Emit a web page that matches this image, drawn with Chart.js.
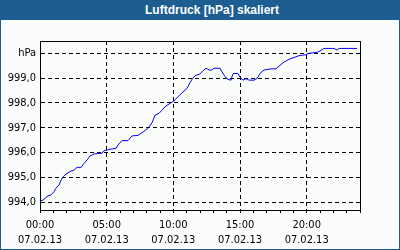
<!DOCTYPE html>
<html>
<head>
<meta charset="utf-8">
<script src="https://cdn.jsdelivr.net/npm/chart.js@4/dist/chart.umd.min.js"></script>
<style>
  html, body { margin: 0; padding: 0; background: #fbfdfb; }
  #wrap { position: relative; width: 400px; height: 250px; overflow: hidden; }
  #c { position: absolute; left: 0; top: 0; }
  #frame { position: absolute; left: 0; top: 0; width: 398px; height: 249px;
           border: 1px solid #1c5e92; border-top: 0; pointer-events: none; }
  #title { position: absolute; left: 0; top: 0; width: 400px; height: 20px;
           background: #1c5e92; color: #fff; font: bold 12px 'Liberation Sans', Arial, sans-serif;
           line-height: 20px; }
  #title span { position: absolute; left: 145px; top: 0; }
</style>
</head>
<body>
<div id="wrap">
  <canvas id="c" width="400" height="250"></canvas>
  <div id="frame"></div>
  <div id="title"><span>Luftdruck [hPa] skaliert</span></div>
</div>
<script>
// Zeit in Stunden ab 07.02.13 00:00
const hours = [0.00, 0.23, 0.38, 0.60, 0.83, 1.05, 1.20, 1.43, 1.58, 1.73, 1.95, 2.25, 2.55, 2.78, 3.08,
    3.30, 3.53, 3.75, 4.05, 4.65, 4.80, 5.25, 5.70, 5.85, 6.15, 6.60, 6.90, 7.35, 7.73, 8.10, 8.40,
    8.63, 8.93, 9.15, 9.45, 9.75, 10.05, 10.35, 10.65, 11.03, 11.25, 11.40, 11.63, 12.00, 12.23, 12.45,
    12.68, 12.90, 13.05, 13.50, 13.65, 13.88, 14.10, 14.33, 14.40, 14.51, 14.85, 15.00, 15.23, 15.45,
    15.68, 16.05, 16.28, 16.50, 16.80, 17.25, 17.70, 18.00, 18.30, 18.75, 19.13, 19.50, 19.95, 20.10,
    20.78, 21.00, 21.30, 22.05, 22.28, 22.43, 23.78];
const pressure = [994.04, 994.08, 994.15, 994.25, 994.29, 994.42, 994.56, 994.69, 994.89, 995.02, 995.13,
    995.23, 995.29, 995.40, 995.40, 995.56, 995.70, 995.86, 995.94, 995.97, 996.07, 996.13, 996.17,
    996.30, 996.48, 996.48, 996.67, 996.69, 996.83, 996.98, 997.20, 997.51, 997.58, 997.71, 997.88,
    997.98, 998.09, 998.25, 998.41, 998.59, 998.82, 998.95, 999.10, 999.17, 999.30, 999.40, 999.33,
    999.33, 999.40, 999.40, 999.26, 999.06, 998.95, 998.92, 999.06, 999.19, 999.19, 999.03, 998.92,
    998.98, 998.92, 998.92, 998.99, 999.19, 999.33, 999.37, 999.38, 999.52, 999.65, 999.78, 999.85,
    999.92, 999.94, 1000.00, 1000.04, 1000.10, 1000.20, 1000.20, 1000.13, 1000.20, 1000.20];
const yTicks = [994, 995, 996, 997, 998, 999, 1000];
const dateLabel = '07.02.13';

const fontFam = "'DejaVu Sans Condensed', 'Liberation Sans', sans-serif";

const boxPlugin = {
    id: 'box',
    afterDraw(chart) {
        const a = chart.chartArea, c = chart.ctx;
        c.save();
        c.strokeStyle = '#000';
        c.lineWidth = 1;
        c.strokeRect(a.left + 0.5, a.top + 0.5, a.right - a.left, a.bottom - a.top);
        c.restore();
    }
};

const chart = new Chart(document.getElementById('c').getContext('2d'), {
    type: 'line',
    data: {
        datasets: [{
            data: hours.map((h, i) => ({ x: h, y: pressure[i] })),
            borderColor: '#0000ff',
            borderWidth: 1,
            pointRadius: 0,
            tension: 0,
            fill: false
        }]
    },
    options: {
        responsive: false,
        animation: false,
        devicePixelRatio: 1,
        layout: { padding: { top: 41, right: 40, left: 0, bottom: 0 } },
        plugins: { legend: { display: false }, tooltip: { enabled: false } },
        scales: {
            x: {
                type: 'linear',
                min: 0,
                max: 24,
                afterFit: s => { s.height = 40; },
                ticks: {
                    stepSize: 1,
                    autoSkip: false,
                    maxRotation: 0,
                    padding: 4.6,
                    color: '#000',
                    font: { family: fontFam, size: 11, lineHeight: 1.35 },
                    callback: v => v % 5 === 0 ? [String(v).padStart(2, '0') + ':00', dateLabel] : ''
                },
                grid: {
                    color: ctx => (ctx.tick && ctx.tick.value % 5 === 0) ? '#000' : 'rgba(0,0,0,0)',
                    tickColor: '#000',
                    tickLength: 3,
                    lineWidth: 1
                },
                border: { color: '#000', dash: [4, 3] }
            },
            y: {
                min: 993.68,
                max: 1000.5,
                afterFit: s => { s.width = 40; },
                afterBuildTicks: axis => { axis.ticks = yTicks.map(v => ({ value: v })); },
                ticks: {
                    padding: 4,
                    color: '#000',
                    font: { family: fontFam, size: 11 },
                    callback: v => v === 1000 ? 'hPa' : v.toFixed(1).replace('.', ',')
                },
                grid: { color: '#000', drawTicks: false, lineWidth: 1 },
                border: { color: '#000', dash: [4, 3] }
            }
        }
    },
    plugins: [boxPlugin]
});
</script>
</body>
</html>
